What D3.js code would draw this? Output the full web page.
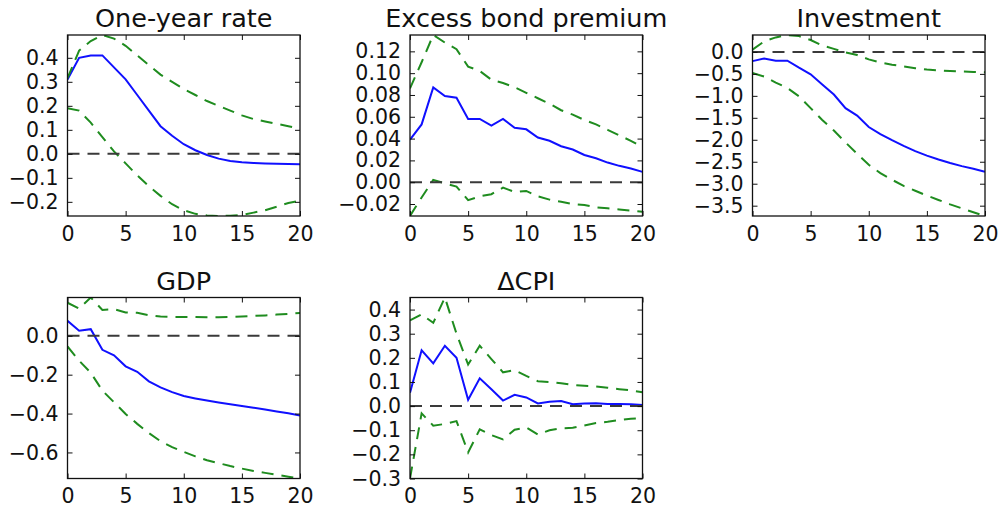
<!DOCTYPE html>
<html>
<head>
<meta charset="utf-8">
<script src="https://cdn.jsdelivr.net/npm/d3@7"></script>
<style>
  body { margin: 0; background: #fff; }
  svg { display: block; font-family: "DejaVu Sans", sans-serif; }
  .tick text { fill: #111; }
</style>
</head>
<body>
<div id="chart"></div>
<script>
// horizons 0..20
const horizons = d3.range(0, 21);

// One-year rate
const rateMid = [0.31, 0.40, 0.41, 0.41, 0.36, 0.31, 0.245, 0.18, 0.115, 0.075, 0.04, 0.015, -0.005, -0.02, -0.03, -0.035, -0.038, -0.04, -0.041, -0.042, -0.043];
const rateHi = [0.315, 0.43, 0.47, 0.495, 0.48, 0.45, 0.41, 0.37, 0.33, 0.30, 0.27, 0.245, 0.22, 0.20, 0.18, 0.16, 0.145, 0.135, 0.125, 0.115, 0.105];
const rateLo = [0.19, 0.18, 0.13, 0.07, 0.01, -0.04, -0.09, -0.135, -0.175, -0.21, -0.235, -0.25, -0.257, -0.259, -0.258, -0.255, -0.245, -0.235, -0.22, -0.205, -0.195];

// Excess bond premium
const ebpMid = [0.039, 0.053, 0.087, 0.079, 0.0775, 0.058, 0.058, 0.052, 0.058, 0.050, 0.0485, 0.041, 0.038, 0.033, 0.030, 0.025, 0.022, 0.018, 0.015, 0.0125, 0.0095];
const ebpHi = [0.086, 0.11, 0.135, 0.128, 0.122, 0.106, 0.102, 0.094, 0.091, 0.087, 0.082, 0.077, 0.072, 0.066, 0.062, 0.057, 0.053, 0.048, 0.043, 0.038, 0.032];
const ebpLo = [-0.031, -0.014, 0.002, -0.001, -0.004, -0.0165, -0.013, -0.011, -0.005, -0.009, -0.008, -0.013, -0.016, -0.018, -0.020, -0.021, -0.023, -0.024, -0.025, -0.026, -0.027];

// Investment
const invMid = [-0.21, -0.15, -0.20, -0.20, -0.36, -0.51, -0.74, -0.97, -1.28, -1.45, -1.71, -1.87, -2.01, -2.14, -2.26, -2.36, -2.45, -2.53, -2.60, -2.66, -2.73];
const invHi = [0.05, 0.24, 0.33, 0.385, 0.36, 0.27, 0.145, 0.07, -0.01, -0.07, -0.17, -0.24, -0.29, -0.33, -0.37, -0.40, -0.42, -0.435, -0.445, -0.455, -0.465];
const invLo = [-0.48, -0.56, -0.70, -0.82, -1.01, -1.28, -1.55, -1.79, -2.06, -2.32, -2.57, -2.76, -2.91, -3.05, -3.16, -3.27, -3.37, -3.47, -3.56, -3.65, -3.735];

// GDP
const gdpMid = [0.077, 0.026, 0.034, -0.072, -0.10, -0.157, -0.185, -0.234, -0.265, -0.29, -0.31, -0.322, -0.333, -0.343, -0.352, -0.361, -0.370, -0.379, -0.389, -0.398, -0.41];
const gdpHi = [0.17, 0.14, 0.197, 0.133, 0.137, 0.12, 0.118, 0.106, 0.099, 0.097, 0.097, 0.097, 0.096, 0.096, 0.097, 0.099, 0.102, 0.105, 0.109, 0.113, 0.117];
const gdpLo = [-0.055, -0.128, -0.19, -0.282, -0.342, -0.402, -0.453, -0.50, -0.542, -0.573, -0.597, -0.62, -0.64, -0.655, -0.67, -0.683, -0.695, -0.705, -0.715, -0.725, -0.734];

// ΔCPI
const cpiMid = [0.055, 0.231, 0.177, 0.25, 0.20, 0.026, 0.115, 0.07, 0.023, 0.047, 0.036, 0.011, 0.018, 0.021, 0.008, 0.011, 0.012, 0.009, 0.009, 0.008, 0.005];
const cpiHi = [0.355, 0.38, 0.345, 0.45, 0.30, 0.172, 0.25, 0.195, 0.14, 0.149, 0.125, 0.103, 0.10, 0.095, 0.088, 0.084, 0.081, 0.076, 0.07, 0.065, 0.057];
const cpiLo = [-0.30, -0.03, -0.081, -0.074, -0.062, -0.192, -0.096, -0.12, -0.138, -0.098, -0.088, -0.118, -0.10, -0.092, -0.09, -0.08, -0.07, -0.065, -0.058, -0.052, -0.05];

// tick labels
const xTicks = [0, 5, 10, 15, 20];
const rateTicks = [-0.2, -0.1, 0.0, 0.1, 0.2, 0.3, 0.4];
const ebpTicks = [-0.02, 0.00, 0.02, 0.04, 0.06, 0.08, 0.10, 0.12];
const invTicks = [-3.5, -3.0, -2.5, -2.0, -1.5, -1.0, -0.5, 0.0];
const gdpTicks = [-0.6, -0.4, -0.2, 0.0];
const cpiTicks = [-0.3, -0.2, -0.1, 0.0, 0.1, 0.2, 0.3, 0.4];

const titles = ['One-year rate', 'Excess bond premium', 'Investment', 'GDP', '\u0394CPI'];

const panels = [
    {title: titles[0], mid: rateMid, hi: rateHi, lo: rateLo, ticks: rateTicks, fmt: '.1f', col: 0, row: 0},
    {title: titles[1], mid: ebpMid, hi: ebpHi, lo: ebpLo, ticks: ebpTicks, fmt: '.2f', col: 1, row: 0},
    {title: titles[2], mid: invMid, hi: invHi, lo: invLo, ticks: invTicks, fmt: '.1f', col: 2, row: 0},
    {title: titles[3], mid: gdpMid, hi: gdpHi, lo: gdpLo, ticks: gdpTicks, fmt: '.1f', col: 0, row: 1},
    {title: titles[4], mid: cpiMid, hi: cpiHi, lo: cpiLo, ticks: cpiTicks, fmt: '.1f', col: 1, row: 1}
];

const width = 999, height = 508;
const colLeft = [67.5, 410, 752.5];
const rowTop = [35, 297.5];
const pw = 232.5, ph = 181;

const svg = d3.select('#chart').append('svg')
    .attr('width', width)
    .attr('height', height);

panels.forEach((p, i) => {
    const g = svg.append('g')
        .attr('transform', `translate(${colLeft[p.col]},${rowTop[p.row]})`);

    const all = p.mid.concat(p.hi, p.lo);
    const scaleX = d3.scaleLinear().domain(d3.extent(horizons)).range([0, pw]);
    const scaleY = d3.scaleLinear().domain(d3.extent(all)).range([ph, 0]);

    g.append('clipPath').attr('id', `clip${i}`)
        .append('rect').attr('width', pw).attr('height', ph);

    const line = d3.line()
        .x((d, j) => scaleX(horizons[j]))
        .y(d => scaleY(d));

    const plot = g.append('g').attr('clip-path', `url(#clip${i})`);

    plot.append('path')
        .attr('d', line(p.mid))
        .style('fill', 'none')
        .style('stroke', '#1010ff')
        .style('stroke-width', 2);

    [p.hi, p.lo].forEach(s => {
        plot.append('path')
            .attr('d', line(s))
            .style('fill', 'none')
            .style('stroke', '#1f8c1f')
            .style('stroke-width', 2)
            .style('stroke-dasharray', '12,8');
    });

    plot.append('line')
        .attr('x1', scaleX(0)).attr('x2', scaleX(20))
        .attr('y1', scaleY(0)).attr('y2', scaleY(0))
        .style('stroke', '#3a3a3a')
        .style('stroke-width', 2)
        .style('stroke-dasharray', '12,8');

    // axes, ticks pointing inward on all sides
    const fmt = d3.format(p.fmt);
    const axL = g.append('g').call(d3.axisLeft(scaleY).tickValues(p.ticks).tickFormat(fmt).tickSize(-5).tickPadding(9));
    const axB = g.append('g').attr('transform', `translate(0,${ph})`)
        .call(d3.axisBottom(scaleX).tickValues(xTicks).tickSize(-5).tickPadding(10));
    const axR = g.append('g').attr('transform', `translate(${pw},0)`)
        .call(d3.axisRight(scaleY).tickValues(p.ticks).tickFormat('').tickSize(-5));
    const axT = g.append('g')
        .call(d3.axisTop(scaleX).tickValues(xTicks).tickFormat('').tickSize(-5));

    [axL, axB, axR, axT].forEach(a => {
        a.select('.domain').remove();
        a.selectAll('.tick line').style('stroke', '#111').style('stroke-width', 1);
        a.selectAll('.tick text').style('font-size', '20.5px').style('font-family', '"DejaVu Sans", sans-serif');
    });

    g.append('rect')
        .attr('width', pw).attr('height', ph)
        .style('fill', 'none')
        .style('stroke', '#111')
        .style('stroke-width', 1.3);

    g.append('text')
        .attr('x', pw / 2)
        .attr('y', -8)
        .attr('text-anchor', 'middle')
        .style('font-size', '25.5px')
        .style('fill', '#111')
        .text(p.title);
});
</script>
</body>
</html>
